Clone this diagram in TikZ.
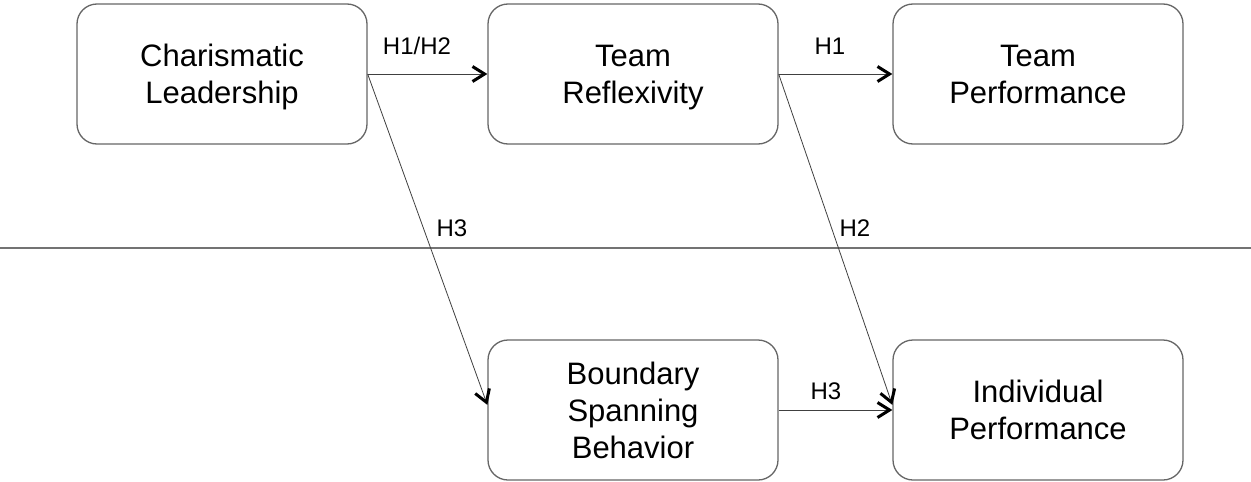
\documentclass[tikz,border=0pt]{standalone}
\usepackage{fontspec}
\setmainfont{Liberation Sans}
\usetikzlibrary{arrows.meta}

\begin{document}
\begin{tikzpicture}[x=1pt, y=-1pt,
  box/.style={draw=black!60, line width=1.3pt, rounded corners=20pt, minimum width=290pt, minimum height=140pt, align=center, inner sep=0pt, text depth=0pt, font=\fontsize{31}{37}\selectfont},
  link/.style={draw=black!75, line width=0.8pt, -{Straight Barb[length=12pt,width=15pt,line width=3pt,color=black]}},
  hyp/.style={font=\fontsize{24}{28}\selectfont, inner sep=0pt}]

\useasboundingbox (0,0) rectangle (1251,482);

% upper level
\node[box] (CL) at (222,74) {Charismatic\\Leadership};
\node[box] (TR) at (633,74) {Team\\Reflexivity};
\node[box] (TP) at (1038,74) {Team\\Performance};

% lower level
\node[box] (BSB) at (633,410) {Boundary\\Spanning\\Behavior};
\node[box] (IP) at (1038,410) {Individual\\Performance};

% level separator
\coordinate (sepL) at (0,248);
\coordinate (sepR) at (1251,248);
\draw[black!55, line width=1.2pt] (sepL) -- (sepR);

% hypotheses
\draw[link] (CL.east) -- (TR.west);
\draw[link] (TR.east) -- (TP.west);
\draw[link] (CL.east) -- (BSB.178);
\draw[link] (TR.east) -- (IP.178);
\draw[link] (BSB.east) -- (IP.west);

\node[hyp] (h12) at (417,46) {H1/H2};
\node[hyp] (h1) at (830,46) {H1};
\node[hyp] (h3a) at (452,228) {H3};
\node[hyp] (h2) at (855,228) {H2};
\node[hyp] (h3b) at (826,391) {H3};

\end{tikzpicture}
\end{document}
